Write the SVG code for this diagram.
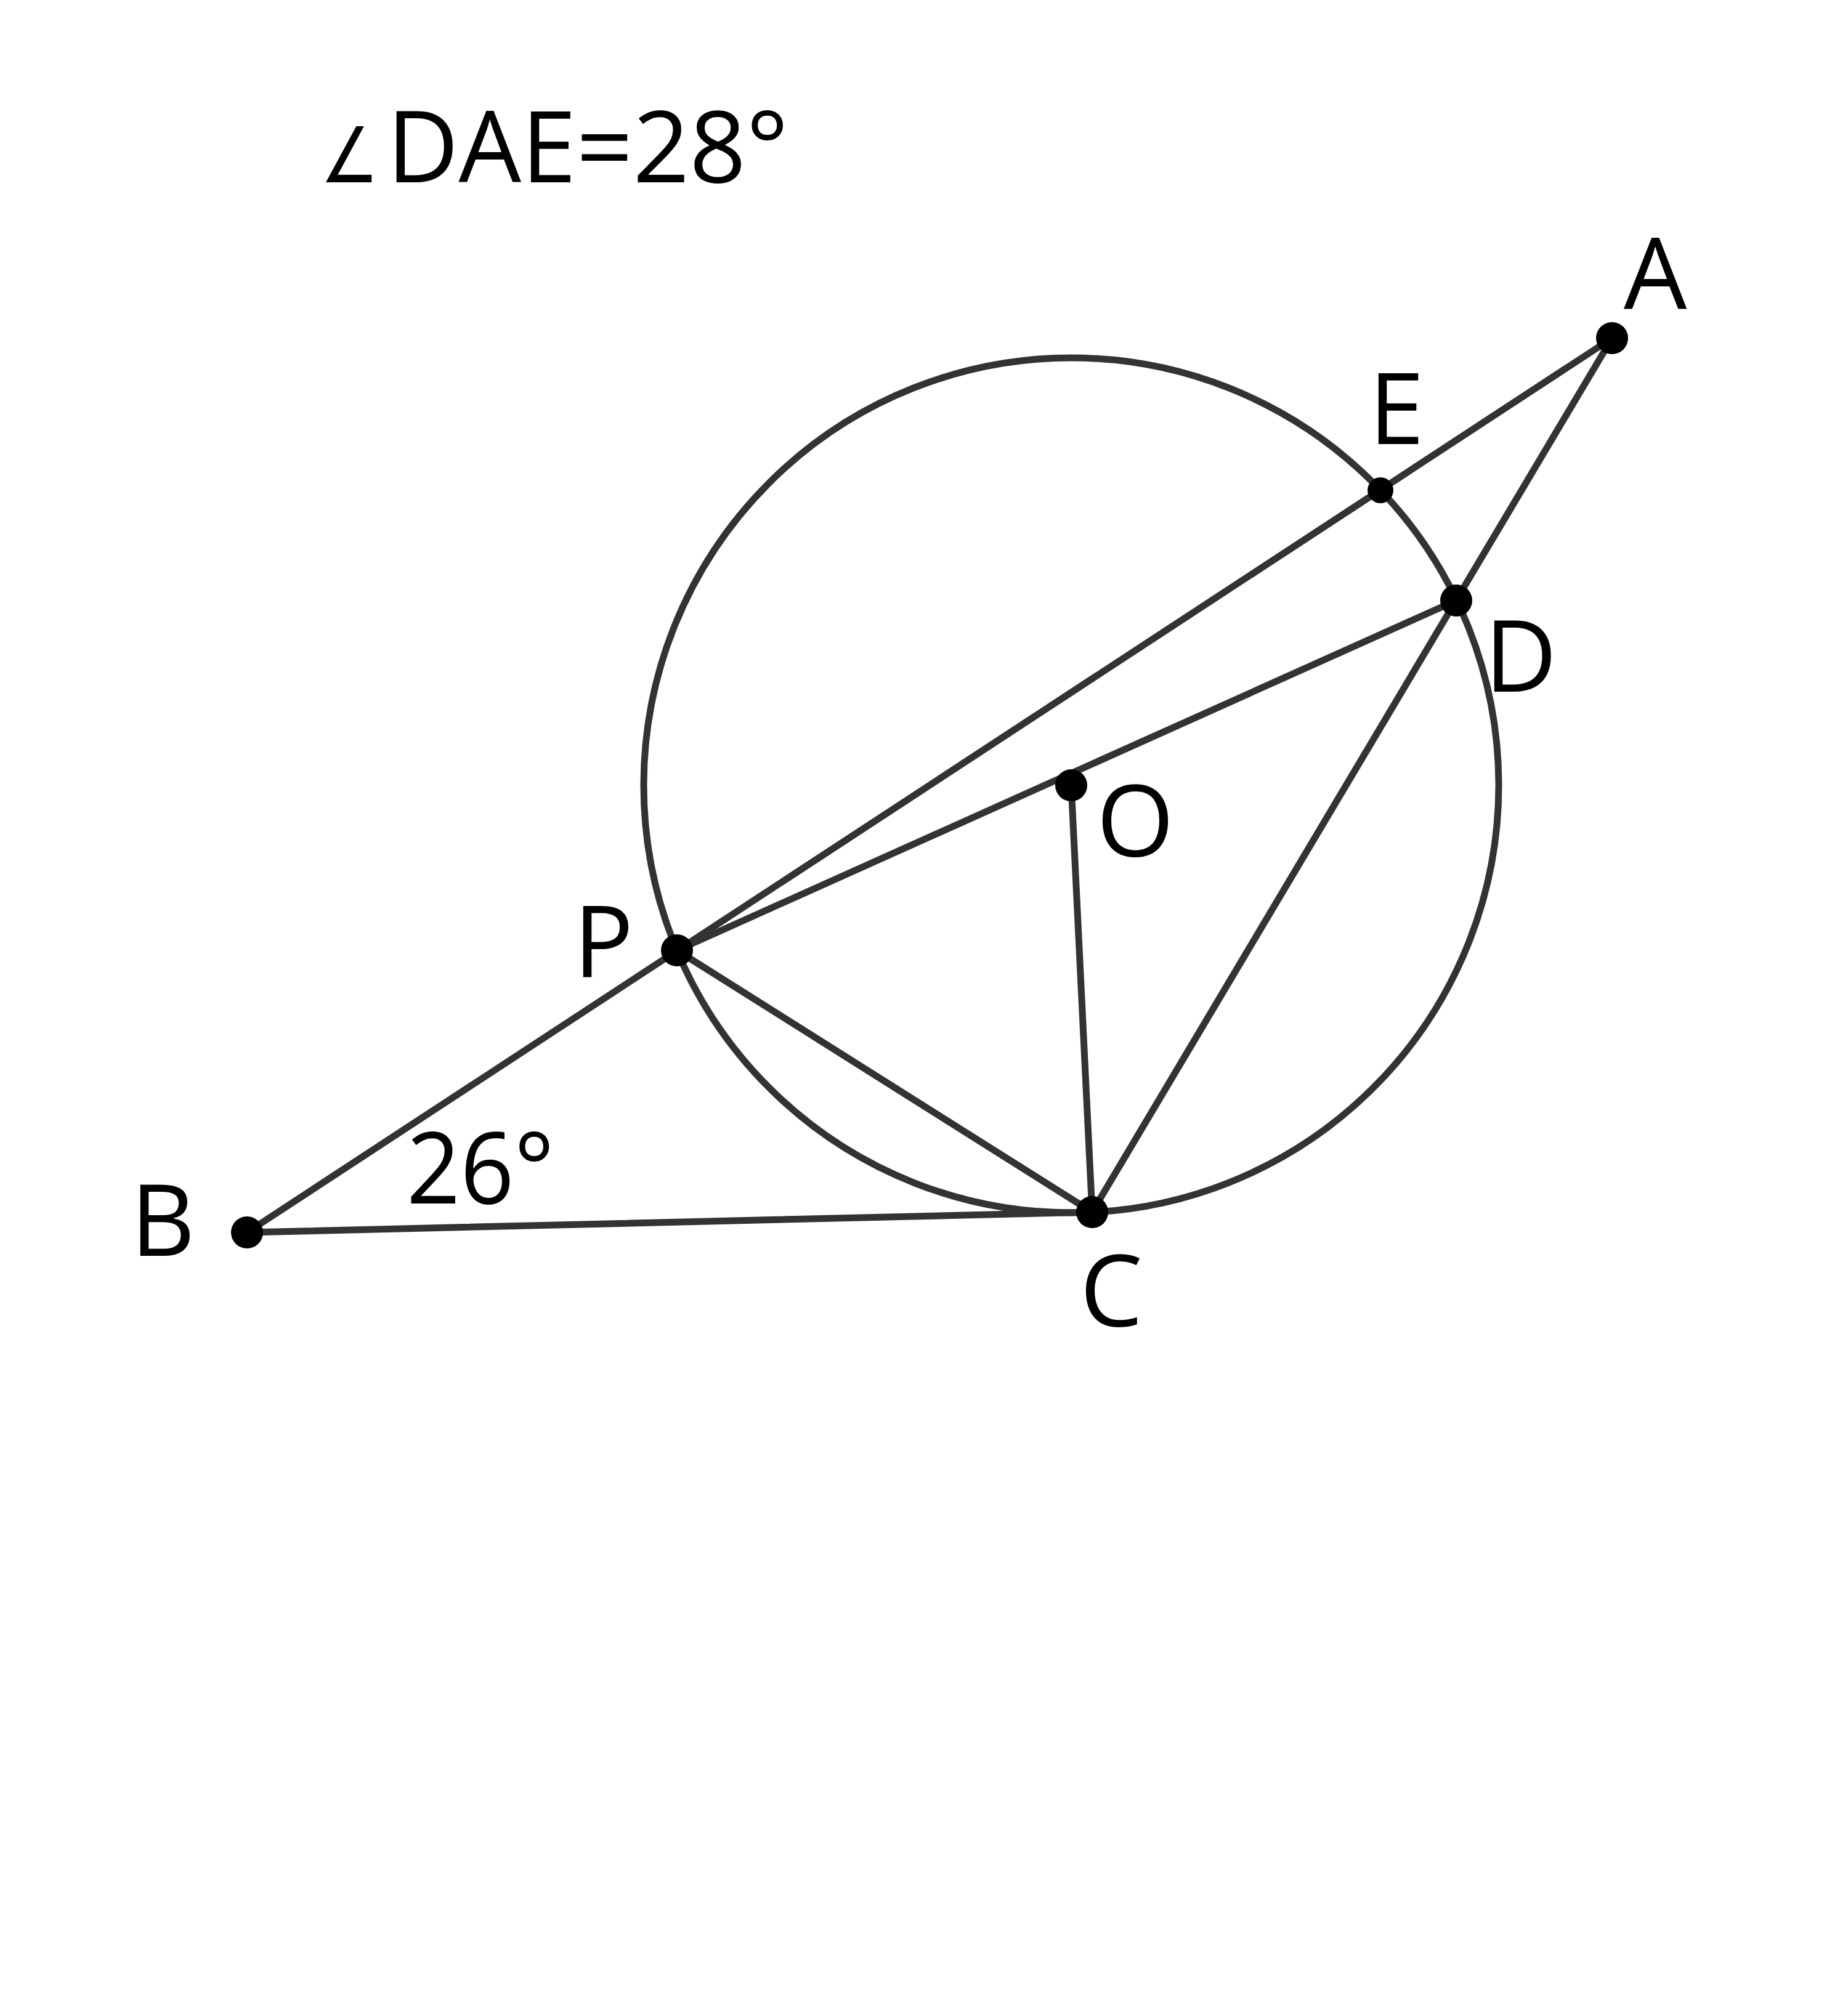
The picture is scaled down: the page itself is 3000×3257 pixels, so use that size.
<svg xmlns="http://www.w3.org/2000/svg" width="3000" height="3257" viewBox="0 0 3000 3257">
<style>
.ln{stroke:#333333;stroke-width:11;fill:none;stroke-linecap:round}
.dot{fill:#000000}
.lbl{font-family:"Open Sans","Noto Sans","DejaVu Sans",sans-serif;font-size:162px;fill:#000000}
</style>
<rect width="3000" height="3257" fill="#ffffff"/>
<g id="title">
<text class="lbl" x="520" y="296" style="font-size:125px" textLength="95" lengthAdjust="spacingAndGlyphs">∠</text>
<text class="lbl" x="628" y="296" textLength="652" lengthAdjust="spacingAndGlyphs">DAE=28°</text>
</g>
<g id="connectors">
<circle class="ln" cx="1739" cy="1275" r="694"/>
<line class="ln" x1="2617" y1="549" x2="401" y2="2001"/>
<line class="ln" x1="2617" y1="549" x2="1773" y2="1968"/>
<line class="ln" x1="1099" y1="1543" x2="2364" y2="975"/>
<line class="ln" x1="1739" y1="1275" x2="1773" y2="1968"/>
<line class="ln" x1="1099" y1="1543" x2="1773" y2="1968"/>
<line class="ln" x1="401" y1="2001" x2="1773" y2="1968"/>
</g>
<g id="A"><circle class="dot" cx="2617" cy="549" r="26"/><text class="lbl" x="2636" y="502">A</text></g>
<g id="E"><circle class="dot" cx="2241" cy="796" r="21"/><text class="lbl" x="2222" y="721">E</text></g>
<g id="D"><circle class="dot" cx="2364" cy="975" r="26"/><text class="lbl" x="2410" y="1123">D</text></g>
<g id="O"><circle class="dot" cx="1739" cy="1275" r="26"/><text class="lbl" x="1780" y="1390">O</text></g>
<g id="P"><circle class="dot" cx="1099" cy="1543" r="26"/><text class="lbl" x="931" y="1586">P</text></g>
<g id="B"><circle class="dot" cx="401" cy="2001" r="26"/><text class="lbl" x="212" y="2039">B</text></g>
<g id="C"><circle class="dot" cx="1773" cy="1968" r="26"/><text class="lbl" x="1753" y="2153">C</text></g>
<g id="angleB"><text class="lbl" x="660" y="1954" textLength="240" lengthAdjust="spacingAndGlyphs">26°</text></g>
</svg>
